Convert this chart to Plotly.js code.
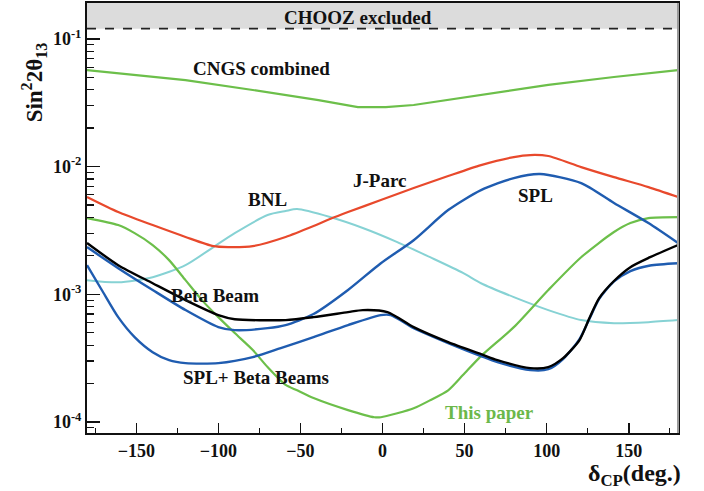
<!DOCTYPE html>
<html><head><meta charset="utf-8">
<script src="https://cdn.plot.ly/plotly-3.0.1.min.js"></script>
<style>html,body{margin:0;padding:0;background:#fff}</style>
</head><body><div id="chart" style="width:704px;height:491px"></div>
<script>
// ---- data (x = delta_CP in degrees, y = sin^2 2theta13) ----
const choozLimit = 0.12;

const cngsX = [-180,-120,-79,-39,-15,2,19,60,101,141,180];
const cngsY = [0.0569,0.0475,0.0397,0.0331,0.0292,0.0292,0.0303,0.0363,0.0435,0.0502,0.0569];

const jparcX = [-180,-161,-140,-120,-103,-94,-79,-59,-42,-32,-21,-1,19,40,60,80,90,101,121,141,162,180];
const jparcY = [0.00577,0.00440,0.00348,0.00281,0.00238,0.00234,0.00238,0.00281,0.00342,0.00388,0.00440,0.00546,0.00678,0.00842,0.01026,0.01186,0.01230,0.01208,0.00990,0.00826,0.00690,0.00577];

const bnlX = [-180,-161,-140,-120,-103,-90,-70,-59,-52,-32,-12,9,29,49,60,80,101,121,141,162,180];
const bnlY = [0.00129,0.00124,0.00136,0.00169,0.00234,0.00301,0.00417,0.00448,0.00464,0.00402,0.00330,0.00256,0.00195,0.00147,0.00122,0.000950,0.000752,0.000628,0.000594,0.000605,0.000628];

const splX = [-180,-161,-140,-120,-100,-90,-70,-59,-42,-21,-1,19,40,60,80,96,121,141,162,180];
const splY = [0.00234,0.00160,0.00108,0.000752,0.000553,0.000524,0.000543,0.000574,0.000700,0.00108,0.00175,0.00265,0.00456,0.00654,0.00812,0.00873,0.00741,0.00518,0.00361,0.00252];

const betaX = [-180,-161,-140,-120,-100,-90,-59,-42,-21,-12,3,19,40,60,70,90,101,110,120,126,132,141,151,163,180];
const betaY = [0.00252,0.00169,0.00122,0.000900,0.000687,0.000638,0.000628,0.000662,0.000725,0.000752,0.000725,0.000553,0.000422,0.000340,0.000305,0.000264,0.000269,0.000316,0.000438,0.000650,0.000933,0.00127,0.00163,0.00195,0.00243];

const splBetaX = [-180,-171,-161,-151,-140,-130,-120,-100,-79,-62,-42,-21,-1,5,19,40,60,70,90,101,110,120,126,132,141,151,163,180];
const splBetaY = [0.00169,0.00108,0.000662,0.000462,0.000352,0.000305,0.000289,0.000289,0.000322,0.000379,0.000462,0.000574,0.000687,0.000687,0.000543,0.000415,0.000328,0.000294,0.000255,0.000259,0.000311,0.000446,0.000640,0.000920,0.00126,0.00152,0.00168,0.00175];

const paperX = [-180,-161,-151,-140,-130,-120,-110,-100,-90,-79,-70,-59,-52,-42,-21,-5,-1,9,19,29,40,49,60,80,101,121,141,151,162,180];
const paperY = [0.00395,0.00348,0.00301,0.00243,0.00185,0.00129,0.000900,0.000662,0.000497,0.000366,0.000269,0.000195,0.000177,0.000154,0.000124,0.000109,0.000109,0.000117,0.000128,0.000148,0.000177,0.000233,0.000328,0.000553,0.00108,0.00195,0.00307,0.00361,0.00395,0.00402];

const xTickVals = [-150,-100,-50,0,50,100,150];
const yTickVals = [1e-4,1e-3,1e-2,1e-1];
const yTickText = ['10<sup>-4</sup>','10<sup>-3</sup>','10<sup>-2</sup>','10<sup>-1</sup>'];

// ---- styling / layout ----
const SERIF = '"Liberation Serif","Times New Roman",serif';
const xRange = [-180, 180];
const yRange = [-4.086, -0.72];   // log10 units
const toPaperY = v => (Math.log10(v) - yRange[0]) / (yRange[1] - yRange[0]);

const C = {red:'#e8492c', cyan:'#86d2d4', blue:'#1f5cb0', green:'#6cbf4a', black:'#000000'};

function line(x, y, color, width, shape) {
  return {x:x, y:y, type:'scatter', mode:'lines', hoverinfo:'skip', showlegend:false,
          line:{color:color, width:width, shape:shape||'spline', smoothing:0.7}};
}

const traces = [
  line(cngsX, cngsY, C.green, 2.2, 'linear'),
  line(bnlX, bnlY, C.cyan, 2),
  line(jparcX, jparcY, C.red, 2.2),
  line(paperX, paperY, C.green, 2.2),
  line(splX, splY, C.blue, 2.4),
  line(splBetaX, splBetaY, C.blue, 2.4),
  line(betaX, betaY, C.black, 2.4),
  {x:xRange, y:[choozLimit, choozLimit], type:'scatter', mode:'lines', hoverinfo:'skip', showlegend:false,
   line:{color:'#222', width:1.6, dash:'dash'}}
];

// label placements (positions only)
const labels = [
  {t:'CHOOZ excluded', x:-15, v:0.1455},
  {t:'CNGS combined', x:-74, v:0.0580},
  {t:'BNL', x:-70, v:0.00556},
  {t:'J-Parc', x:-2, v:0.00783},
  {t:'SPL', x:93, v:0.00597},
  {t:'Beta Beam', x:-102, v:0.000984},
  {t:'SPL+ Beta Beams', x:-77, v:0.000224},
  {t:'This paper', x:65, v:0.000119, c:'#6cb84a'}
];

const annotations = labels.map(l => ({
  text:l.t, x:l.x, y:Math.log10(l.v), xref:'x', yref:'y', showarrow:false,
  xanchor:'center', yanchor:'middle',
  font:{family:SERIF, size:19, weight:700, color:l.c||'#111'}
}));

annotations.push({
  text:'Sin<sup>2</sup>2θ<sub>13</sub>', xref:'paper', yref:'paper', x:-0.09, y:0.815,
  showarrow:false, textangle:-90, xanchor:'center', yanchor:'middle',
  font:{family:SERIF, size:23, weight:700, color:'#111'}
});
annotations.push({
  text:'δ<sub>CP</sub>(deg.)', xref:'paper', yref:'paper', x:1.008, y:-0.058,
  showarrow:false, xanchor:'right', yanchor:'top',
  font:{family:SERIF, size:24, weight:700, color:'#111'}
});

// minor tick positions on the log axis (2..9 in each decade)
const minorY = [];
for (let e = -5; e <= -1; e++) for (let m = 2; m <= 9; m++) minorY.push(m * Math.pow(10, e));

const layout = {
  width:704, height:491,
  margin:{l:87, r:26, t:3, b:58},
  paper_bgcolor:'#fff', plot_bgcolor:'#fff',
  font:{family:SERIF, color:'#111'},
  xaxis:{
    range:xRange, tickvals:xTickVals, ticks:'inside', ticklen:10, tickwidth:1.5, tickcolor:'#111',
    minor:{tickvals:[-175,-125,-75,-25,25,75,125,175], ticks:'inside', ticklen:5, tickwidth:1.2, tickcolor:'#111'},
    showgrid:false, zeroline:false, showline:true, linecolor:'#111', linewidth:2, mirror:true,
    tickfont:{family:SERIF, size:18, weight:700, color:'#111'}
  },
  yaxis:{
    type:'log', range:yRange, tickvals:yTickVals, ticktext:yTickText,
    ticks:'inside', ticklen:13, tickwidth:1.5, tickcolor:'#111',
    minor:{tickvals:minorY, ticks:'inside', ticklen:7, tickwidth:1.2, tickcolor:'#111'},
    showgrid:false, zeroline:false, showline:true, linecolor:'#111', linewidth:2, mirror:true,
    tickfont:{family:SERIF, size:18, weight:700, color:'#111'}
  },
  shapes:[{
    type:'rect', xref:'paper', yref:'paper', x0:0, x1:1, y0:toPaperY(choozLimit), y1:1,
    fillcolor:'#dcdcdc', line:{width:0}, layer:'below'
  },{
    type:'line', xref:'paper', yref:'paper', x0:1, x1:1, y0:0, y1:1,
    line:{color:'#9a9a9a', width:2}
  }],
  annotations:annotations
};

Plotly.newPlot('chart', traces, layout, {displayModeBar:false, staticPlot:true});
</script>
</body></html>
